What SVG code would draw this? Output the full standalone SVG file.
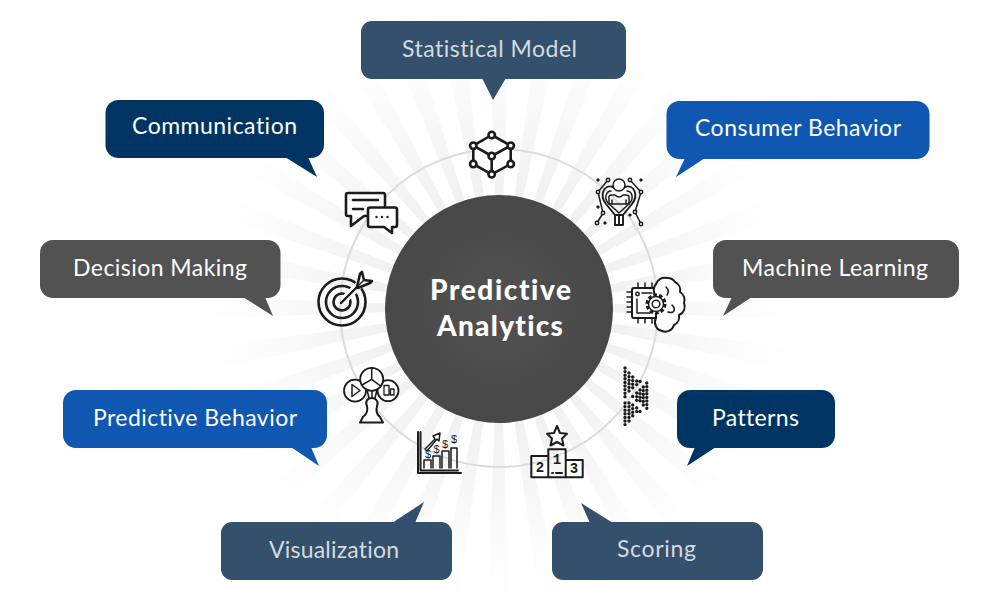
<svg xmlns="http://www.w3.org/2000/svg" width="1000" height="600" viewBox="0 0 1000 600">
<style>
text{font-variant-ligatures:none}
.lbl{font-family:"Lato","Open Sans","Liberation Sans",sans-serif;font-size:23px;fill:#fff}
.dim{fill:#d6dade}
.navy{fill:#003463}.blue{fill:#0f57b0}.slate{fill:#33516c}.gray{fill:#525252}
.ic{fill:none;stroke:#1b1b1b;stroke-width:2;stroke-linecap:round;stroke-linejoin:round}
.th{stroke-width:1.500}
.w{stroke-width:2.600}
.d{fill:#1b1b1b;stroke:none}
.dots{fill:none;stroke:#1b1b1b;stroke-width:3.400;stroke-linecap:round;stroke-dasharray:0 3.600}
.num{font-family:"Liberation Mono",monospace;font-weight:700;font-size:14px;fill:#1b1b1b;stroke:none;text-anchor:middle}
.usd{font-family:"Liberation Sans",sans-serif;font-size:11px;fill:#1b1b1b;stroke:none;text-anchor:middle}
.title{font-family:"Lato","Open Sans","Liberation Sans",sans-serif;font-weight:900;font-size:28px;fill:#fff}
</style>
<defs>
<radialGradient id="rayg" gradientUnits="userSpaceOnUse" cx="499" cy="308" r="345">
<stop offset="0.3" stop-color="#f0f0f0"/><stop offset="0.5" stop-color="#f6f6f6"/><stop offset="0.7" stop-color="#fcfcfc"/><stop offset="0.88" stop-color="#fff"/>
</radialGradient>
<radialGradient id="hub" cx="0.5" cy="0.5" r="0.5"><stop offset="0" stop-color="#525252"/><stop offset="1" stop-color="#484848"/></radialGradient>
</defs>
<rect width="1000" height="600" fill="#fff"/>
<circle id="rays" cx="499" cy="308" r="172.500" fill="none" stroke="url(#rayg)" stroke-width="345" stroke-dasharray="13 17.107" stroke-dashoffset="6.500"/>
<g id="connectors"><circle cx="499" cy="308" r="159" fill="none" stroke="#dcdcdc" stroke-width="2"/></g>
<g id="hub-node"><circle cx="499" cy="309" r="114" fill="url(#hub)"/>
<text class="title" x="430" y="300" textLength="141">Predictive</text><text class="title" x="437" y="336" textLength="126">Analytics</text></g>

<g id="statistical-model"><rect class="slate" x="361" y="21" width="265" height="58" rx="11"/><polygon class="slate" points="482,78 493,100 506,78"/><text class="lbl dim" x="402" y="57" textLength="175">Statistical Model</text></g>
<g id="communication"><rect class="navy" x="105.500" y="100" width="218.500" height="58" rx="13"/><polygon class="navy" points="285,157 317,177 308,157"/><text class="lbl" x="132" y="134" textLength="165">Communication</text></g>
<g id="consumer-behavior"><rect class="blue" x="666.500" y="101" width="263" height="58" rx="13"/><polygon class="blue" points="685,158 676,177 705,158"/><text class="lbl" x="695" y="136" textLength="206">Consumer Behavior</text></g>
<g id="decision-making"><rect class="gray" x="40" y="240" width="240.500" height="58" rx="13"/><polygon class="gray" points="243,297 273,316 265,297"/><text class="lbl" x="73" y="276" textLength="174">Decision Making</text></g>
<g id="machine-learning"><rect class="gray" x="713" y="240" width="246" height="58" rx="13"/><polygon class="gray" points="732,297 723,316 752,297"/><text class="lbl" x="742" y="276" textLength="186">Machine Learning</text></g>
<g id="predictive-behavior"><rect class="blue" x="63" y="390" width="264" height="58" rx="13"/><polygon class="blue" points="291,447 319,466 311,447"/><text class="lbl" x="93" y="426" textLength="204">Predictive Behavior</text></g>
<g id="patterns"><rect class="navy" x="677" y="390" width="158" height="58" rx="13"/><polygon class="navy" points="695,447 687,466 716,447"/><text class="lbl" x="712" y="426" textLength="87">Patterns</text></g>
<g id="visualization"><rect class="slate" x="221" y="522" width="231" height="58" rx="11"/><polygon class="slate" points="392,523 424,502 415,523"/><text class="lbl dim" x="269" y="558" textLength="130">Visualization</text></g>
<g id="scoring"><rect class="slate" x="552" y="522" width="211" height="58" rx="11"/><polygon class="slate" points="590,523 581,503 613,523"/><text class="lbl dim" x="617" y="557" textLength="79">Scoring</text></g>

<g id="icon-cube" class="ic w">
<path fill="#fff" d="M491.700 135 510.700 145.700V164L491.700 174.300 473.300 164V145.700Z"/>
<path d="M473.300 145.700 491.700 156 510.700 145.700M491.700 156V174.300"/>
<g fill="#fff"><circle cx="491.700" cy="135" r="3.200"/><circle cx="510.700" cy="145.700" r="3.200"/><circle cx="510.700" cy="164" r="3.200"/><circle cx="491.700" cy="174.300" r="3.200"/><circle cx="473.300" cy="164" r="3.200"/><circle cx="473.300" cy="145.700" r="3.200"/><circle cx="491.700" cy="156" r="3.200"/></g>
</g>

<g id="icon-chat" class="ic w">
<path fill="#fff" d="M348 193H383Q385 193 385 195V214Q385 216 383 216H364L351 226V216H348Q346 216 346 214V195Q346 193 348 193Z"/>
<path d="M353 200H378M353 209H363"/>
<path fill="#fff" d="M370 207.500H395Q397 207.500 397 209.500V225Q397 227 395 227H392V233L384 227H370Q368 227 368 225V209.500Q368 207.500 370 207.500Z"/>
<circle class="d" cx="376.500" cy="217" r="1.200"/><circle class="d" cx="382" cy="217" r="1.200"/><circle class="d" cx="387.500" cy="217" r="1.200"/>
</g>

<g id="icon-ai" class="ic th">
<circle cx="619" cy="185" r="6" fill="#fff"/>
<path stroke-width="1.900" d="M613 187C604 184 599 195 606 204L615 215H623L632 204C639 195 634 184 625 187"/>
<path d="M611 191C606 191 604 198 608 203L619 213 630 203C634 198 632 191 627 191"/>
<path d="M609 204V197Q609 195 612 195H615Q619 199 623 195H626Q629 195 629 197V204ZM612 204V200M626 204V200"/>
<path stroke-width="1.900" d="M615 215V225H623V215M619 215V225"/>
<path d="M608 180 598 192 603 213 597 223M630 180 641 192 635 212 641 224"/>
<g fill="#fff"><circle cx="608" cy="180" r="1.700"/><circle cx="630" cy="180" r="1.700"/><circle cx="598" cy="192" r="1.700"/><circle cx="641" cy="192" r="1.700"/><circle cx="603" cy="213" r="1.700"/><circle cx="635" cy="212" r="1.700"/><circle cx="597" cy="223" r="1.700"/><circle cx="641" cy="224" r="1.700"/></g>
<path class="d" d="M598 178l2 2-2 2-2-2ZM641 178l2 2-2 2-2-2ZM598 205l2 2-2 2-2-2ZM630 213l2 2-2 2-2-2ZM605 221l2 2-2 2-2-2Z"/>
</g>

<g id="icon-brain" class="ic th">
<path fill="#fff" stroke-width="2" d="M634 288H660V318H634Q632 318 632 316V290Q632 288 634 288Z"/>
<path d="M632 292H627M632 297H627M632 302H627M632 307H627M632 312H627M638 288V283M645 288V283M652 288V283M638 318V323M645 318V323M652 318V323"/>
<circle cx="637.500" cy="294" r="1.700"/><path d="M642 293H652M637 299V313H650"/>
<path fill="#fff" stroke-width="2" d="M656 318A9 9 0 0 0 662 331A9 9 0 0 0 674 325A9 9 0 0 0 679 315A9 9 0 0 0 684 303A9 9 0 0 0 680 292A9 9 0 0 0 675 282A9 9 0 0 0 667 278A9 9 0 0 0 656 284A9 9 0 0 0 656 296Z"/>
<path d="M666 287Q670 291 667 295M672 305Q676 309 673 312 671 313 668 312"/>
<circle cx="656" cy="304" r="9" fill="#fff" stroke-width="3" stroke-dasharray="3.500 2.150" stroke-linecap="butt"/>
<circle cx="656" cy="304" r="7.500" fill="#fff"/><circle cx="656" cy="304" r="3.800"/>
</g>

<g id="icon-target" class="ic w">
<circle cx="342" cy="302" r="23.500"/><circle cx="342" cy="302" r="16"/><circle cx="342" cy="302" r="8.500"/>
<path stroke="#fff" stroke-width="8" d="M345 299 362 282"/>
<path stroke-width="2.400" d="M341 303 357 287"/>
<path fill="#fff" d="M357 287 360 274 362 272 364 280 372 281 370 283 358 288Z"/>
<path stroke-width="1.500" d="M358 286 364 280"/>
</g>

<g id="icon-fan" class="ic th">
<path stroke-width="2" d="M360 422.500H383L380 417C376 414 376 410 377 406 379 402 376 398 372 398 367 398 365 402 367 406 368 410 367 414 363 417Z" fill="#fff"/>
<path d="M369 398 367 390M375 398 377 390M372 391V398"/>
<circle cx="355" cy="390.700" r="11" fill="#fff" stroke-width="1.800"/><circle cx="388" cy="390.700" r="10.500" fill="#fff" stroke-width="1.800"/>
<circle cx="371.700" cy="379.300" r="11.500" fill="#fff" stroke-width="1.800"/>
<path d="M371.700 379.300V368M371.700 379.300 362 385M371.700 379.300 380.500 386"/>
<path d="M352 384.500 360 390.500 352 396.500Z"/>
<path d="M384 385.500H389V395H384ZM390.500 389H394V395H390.500Z" stroke-width="1.300"/>
</g>

<g id="icon-chart" class="ic th">
<path stroke-width="2" d="M418 432V473H461M420.500 432V470.500H458"/>
<path d="M424 468V460H431V468M433 468V456H440V468M442 468V451H449V468M451 468V448H457V468"/>
<path d="M425 449 435 439 433 436 440 433 439 441 437 439 427 451Z"/>
<text class="usd" x="428" y="458">$</text><text class="usd" x="436.500" y="453">$</text><text class="usd" x="445" y="448">$</text><text class="usd" x="454" y="443">$</text>
</g>

<g id="icon-podium" class="ic">
<path d="M557 426 560 433 567 433.700 562 438.500 563.500 445.500 557 442 550.500 445.500 552 438.500 547 433.700 554 433Z"/>
<path d="M531.300 456H548.300V449.300H565.700V460H582.700V477.300H531.300ZM548.300 456V477.300M565.700 460V477.300"/>
<text class="num" x="557" y="464">1</text><text class="num" x="540" y="472">2</text><text class="num" x="574" y="473">3</text>
<path d="M552 473H553M556 473H562"/>
</g>

<g id="icon-pattern">
<path class="dots" d="M625 368V398M625 403V426M629 373V393M629 403V421M632.700 377V389M632.700 405V417M636.700 381V386M636.700 408V413M632.700 396.500V397M636.700 393V401M640 381.500V382M640 390V404M640 411.500V412M643.300 387V408M646.800 383V411"/>
</g>
</svg>
